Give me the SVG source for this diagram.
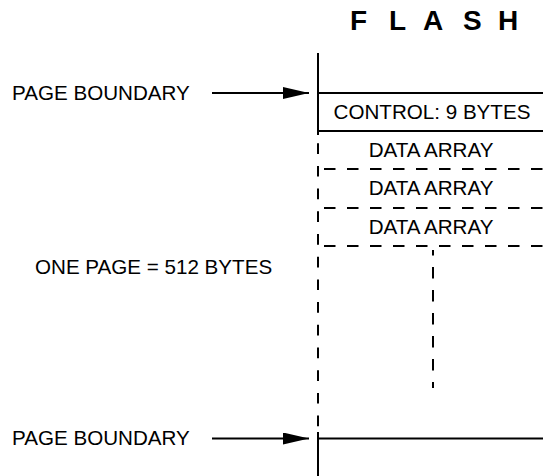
<svg xmlns="http://www.w3.org/2000/svg" width="543" height="476" viewBox="0 0 543 476">
  <style>
    .t { font-family: "Liberation Sans", Arial, sans-serif; font-size: 20.6px; fill: #000; }
    .title { font-family: "Liberation Sans", Arial, sans-serif; font-size: 28px; font-weight: bold; fill: #000; }
    .solid { stroke: #000; stroke-width: 2; fill: none; }
    .dash { stroke: #000; stroke-width: 2; fill: none; stroke-dasharray: 11.5 11.5; }
    .hdash { stroke-dashoffset: 17; }
    .vdash { stroke-dasharray: 10.7 12; stroke-dashoffset: 14.5; }
  </style>
  <defs>
    <marker id="arr" viewBox="0 0 26 12" refX="26" refY="6" markerWidth="26" markerHeight="12" markerUnits="userSpaceOnUse" orient="auto">
      <path d="M0,0 L26,6 L0,12 Z" fill="#000"/>
    </marker>
  </defs>
  <rect width="543" height="476" fill="#fff"/>

  <g id="title">
    <text class="title" x="350 370 389 408 423 444 463 482 498" y="30">F L A S H</text>
  </g>

  <g id="flash-memory">
    <line class="solid" x1="318" y1="53" x2="318" y2="135"/>
    <line class="dash vdash" x1="318" y1="135" x2="318" y2="428"/>
    <line class="solid" x1="318" y1="432" x2="318" y2="476"/>
    <line class="solid" x1="318" y1="93" x2="543" y2="93"/>
    <line class="solid" x1="318" y1="438.5" x2="543" y2="438.5"/>
  </g>

  <g id="control">
    <line class="solid" x1="318" y1="131" x2="543" y2="131"/>
    <text class="t" x="432" y="119" text-anchor="middle">CONTROL: 9 BYTES</text>
  </g>

  <g id="data-array-1">
    <text class="t" x="431" y="157" text-anchor="middle">DATA ARRAY</text>
    <line class="dash hdash" x1="318" y1="169" x2="543" y2="169"/>
  </g>
  <g id="data-array-2">
    <text class="t" x="431" y="195" text-anchor="middle">DATA ARRAY</text>
    <line class="dash hdash" x1="318" y1="208" x2="543" y2="208"/>
  </g>
  <g id="data-array-3">
    <text class="t" x="431" y="233.5" text-anchor="middle">DATA ARRAY</text>
    <line class="dash hdash" x1="318" y1="246" x2="543" y2="246"/>
  </g>
  <g id="data-continuation">
    <line class="dash" x1="433" y1="250" x2="433" y2="388" style="stroke-dashoffset: 6"/>
  </g>

  <g id="label-page-boundary-top">
    <text class="t" x="12" y="100">PAGE BOUNDARY</text>
  </g>
  <g id="label-one-page">
    <text class="t" x="35" y="274">ONE PAGE = 512 BYTES</text>
  </g>
  <g id="label-page-boundary-bottom">
    <text class="t" x="12" y="445">PAGE BOUNDARY</text>
  </g>

  <g id="connectors">
    <line class="solid" x1="212" y1="93" x2="309" y2="93" marker-end="url(#arr)"/>
    <line class="solid" x1="212" y1="438.5" x2="309" y2="438.5" marker-end="url(#arr)"/>
  </g>
</svg>
